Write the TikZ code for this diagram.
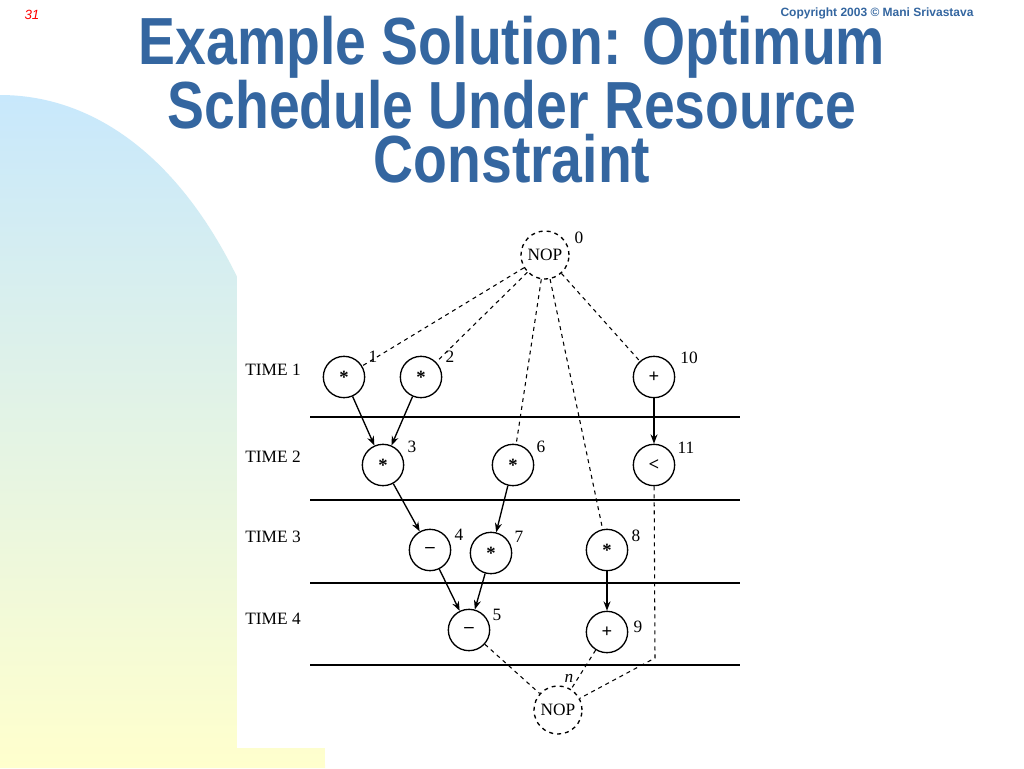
\documentclass[tikz,border=0pt]{standalone}
\usepackage{fontspec}
\setmainfont{Liberation Serif}
\newfontfamily\hsans{Liberation Sans}
\usetikzlibrary{arrows.meta}
\definecolor{ttl}{RGB}{52,102,160}
\begin{document}
\begin{tikzpicture}[x=0.75pt,y=-0.75pt,
 op/.style={draw,circle,minimum size=31pt,inner sep=0pt,font=\fontsize{14}{14}\selectfont\bfseries,line width=1pt},
 nop/.style={op,dashed,minimum size=36pt,font=\fontsize{13}{13}\selectfont},
 num/.style={font=\fontsize{13}{13}\selectfont},
 tm/.style={font=\fontsize{13}{13}\selectfont},
 ar/.style={-{Stealth[length=7pt]},line width=1pt},
 dl/.style={dashed,line width=0.8pt}]
\useasboundingbox (0,0) rectangle (1024,768);
\fill[white] (0,0) rectangle (1024,768);
\shade[top color={rgb,255:red,200;green,232;blue,252},bottom color={rgb,255:red,255;green,255;blue,205}]
 (0,95) .. controls (170,95) and (325,300) .. (325,768) -- (0,768) -- cycle;
\fill[white] (237,225) rectangle (1024,748);
\node[text=ttl,font=\hsans\bfseries\fontsize{50}{41}\selectfont,align=center] (title) at (512,100)
 {\scalebox{0.83}[1]{Example Solution: Optimum}\\\scalebox{0.83}[1]{Schedule Under Resource}\\\scalebox{0.83}[1]{Constraint}};
\node[text=ttl,font=\hsans\bfseries\fontsize{9}{9}\selectfont] (copy) at (877,13) {Copyright 2003 © Mani Srivastava};
\node[text=red,font=\hsans\itshape\fontsize{10}{10}\selectfont] (pg) at (32,15) {31};
\foreach \y in {417,500,583,665} \draw[line width=1pt] (310,\y) -- (740,\y);
\node[tm] (t1) at (273,370) {TIME 1};
\node[tm] (t2) at (273,457) {TIME 2};
\node[tm] (t3) at (273,537) {TIME 3};
\node[tm] (t4) at (273,619) {TIME 4};
\node[nop] (n0) at (545,255) {NOP};
\node[nop] (nn) at (558,710) {NOP};
\node[op] (n1) at (344,377) {*};
\node[op] (n2) at (421,377) {*};
\node[op] (n10) at (654,377) {+};
\node[op] (n3) at (383,465) {*};
\node[op] (n6) at (513,465) {*};
\node[op] (n11) at (654,465) {<};
\node[op] (n4) at (430,550) {--};
\node[op] (n7) at (491,553) {*};
\node[op] (n8) at (607,550) {*};
\node[op] (n5) at (469,630) {--};
\node[op] (n9) at (607,632) {+};
\node[num] (l0) at (579,238) {0};
\node[num] (ln) at (569,678) {\itshape n};
\node[num] (l1) at (373,357) {1};
\node[num] (l2) at (450,357) {2};
\node[num] (l10) at (689,358) {10};
\node[num] (l3) at (412,447) {3};
\node[num] (l6) at (541,447) {6};
\node[num] (l11) at (686,448) {11};
\node[num] (l4) at (459,535) {4};
\node[num] (l7) at (519,537) {7};
\node[num] (l8) at (636,536) {8};
\node[num] (l5) at (497,615) {5};
\node[num] (l9) at (638,627) {9};
\draw[dl] (n0) -- (n1); \draw[dl] (n0) -- (n2); \draw[dl] (n0) -- (n10);
\draw[dl] (n0) -- (n6); \draw[dl] (n0) -- (n8);
\draw[ar] (n1) -- (n3); \draw[ar] (n2) -- (n3); \draw[ar] (n3) -- (n4);
\draw[ar] (n6) -- (n7); \draw[ar] (n4) -- (n5); \draw[ar] (n7) -- (n5);
\draw[ar] (n8) -- (n9); \draw[ar] (n10) -- (n11);
\draw[dl] (n5) -- (nn); \draw[dl] (n9) -- (nn);
\coordinate (c11) at (655,658);
\draw[dl] (n11) -- (c11) -- (nn);
\end{tikzpicture}
\end{document}
